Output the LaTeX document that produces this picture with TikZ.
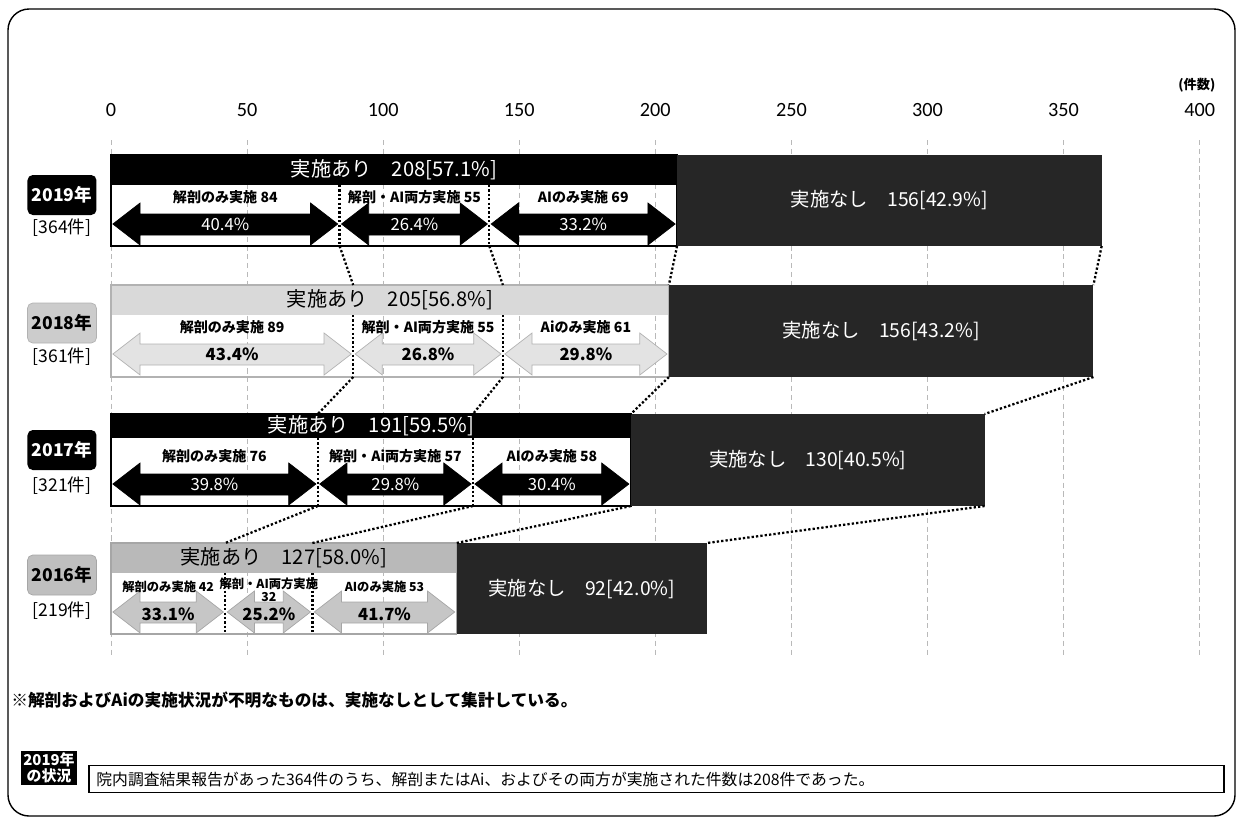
\documentclass[tikz,border=0pt]{standalone}
\usepackage{fontspec}
\setmainfont{Noto Sans CJK JP}
\newfontfamily\numfont{Carlito}
\usepackage{tikz}

% double headed block arrow: left, right, bar top, style
\newcommand\segarrow[4]{%
  \filldraw[#4] ({#1+0.7},#3+69) -- ({#1+10.7},#3+48) -- ({#1+10.7},#3+59)
    -- ({#2-10.7},#3+59) -- ({#2-10.7},#3+48) -- ({#2-0.7},#3+69)
    -- ({#2-10.7},#3+90) -- ({#2-10.7},#3+80) -- ({#1+10.7},#3+80)
    -- ({#1+10.7},#3+90) -- cycle;}

\tikzset{
  grid line/.style={gray!55,densely dashed,line width=0.4pt},
  axis num/.style={font=\numfont\fontsize{11.5}{12}\selectfont},
  unit text/.style={font=\bfseries\fontsize{7.5}{8}\selectfont},
  band text/.style={font=\fontsize{11.5}{12}\selectfont},
  seg label/.style={font=\bfseries\fontsize{8}{9}\selectfont,inner sep=1pt},
  small label/.style={font=\bfseries\fontsize{7}{7.5}\selectfont,inner sep=1pt,align=center},
  pct label/.style={font=\fontsize{9.5}{10}\selectfont,inner sep=1pt},
  pct bold/.style={font=\bfseries\fontsize{9.5}{10}\selectfont,inner sep=1pt},
  link/.style={line width=1.3pt,dash pattern=on 1.3pt off 1.2pt},
  year box/.style={rounded corners=3pt,minimum width=1.38cm,minimum height=0.8cm,
    inner sep=1pt,font=\bfseries\fontsize{10}{10}\selectfont},
  count text/.style={font=\fontsize{10}{10}\selectfont},
  none bar/.style={fill=black!85},
  none text/.style={font=\fontsize{11}{12}\selectfont,text=white},
  black arrow/.style={fill=black,draw=black},
  pale arrow/.style={fill=gray!22,draw=gray!60,line width=0.4pt},
  mid arrow/.style={fill=gray!45,draw=gray!70,line width=0.4pt},
  note text/.style={font=\bfseries\fontsize{9.5}{10}\selectfont,inner sep=0pt},
}

\begin{document}
\begin{tikzpicture}[x=0.02cm,y=-0.02cm]
  \useasboundingbox (0,0) rectangle (1241,826);
  % Frame
  \draw[line width=0.8pt,rounded corners=12pt] (8,9) rectangle (1235,816);

  \begin{scope}[xshift=2.22cm,x=0.05445cm]
  % Grid and axis
  \foreach \v in {0,50,...,400}{
    \draw[grid line] (\v,140) -- (\v,655);
    \node[axis num] (ax\v) at (\v,110) {\v};
  }
  \node[unit text] (unit) at (399,85) {(件数)};

  % 2019
  \fill[black] (0,155) rectangle (208,185);
  \node[band text,text=white] (yes19) at (104,170) {実施あり　208[57.1\%]};
  \foreach \p/\q/\lbl/\pcv in {0/84/解剖のみ実施 84/40.4, 84/139/解剖・AI両方実施 55/26.4, 139/208/AIのみ実施 69/33.2}{
    \segarrow{\p}{\q}{155}{black arrow}
    \node[seg label] (lbl19-\p) at ({(\p+\q)/2},197) {\lbl};
    \node[pct label,text=white] (pct19-\p) at ({(\p+\q)/2},224) {\pcv\%};
  }
  \draw[line width=0.8pt] (0,155) rectangle (208,246);
  \draw[link] (84,185) -- (84,246) (139,185) -- (139,246);
  \fill[none bar] (208,155) rectangle (364,246);
  \node[none text] (no19) at (286,200) {実施なし　156[42.9\%]};
  \node[year box,fill=black,text=white] (yr19) at (-18,195) {2019年};
  \node[count text] (cnt19) at (-18,228) {[364件]};
  \foreach \k/\v in {1/84,2/139,3/208,4/364}{
    \coordinate (bot19-\k) at (\v,246);}

  % 2018
  \fill[gray!30] (0,285) rectangle (205,315);
  \node[band text] (yes18) at (102.5,300) {実施あり　205[56.8\%]};
  \foreach \p/\q/\lbl/\pcv in {0/89/解剖のみ実施 89/43.4, 89/144/解剖・AI両方実施 55/26.8, 144/205/Aiのみ実施 61/29.8}{
    \segarrow{\p}{\q}{285}{pale arrow}
    \node[seg label] (lbl18-\p) at ({(\p+\q)/2},327) {\lbl};
    \node[pct bold] (pct18-\p) at ({(\p+\q)/2},354) {\pcv\%};
  }
  \draw[gray!60,line width=0.6pt] (0,285) rectangle (205,377);
  \draw[link] (89,315) -- (89,377) (144,315) -- (144,377);
  \fill[none bar] (205,285) rectangle (361,377);
  \node[none text] (no18) at (283,331) {実施なし　156[43.2\%]};
  \node[year box,fill=gray!40,draw=gray!60] (yr18) at (-18,323) {2018年};
  \node[count text] (cnt18) at (-18,357) {[361件]};
  \foreach \k/\v in {1/89,2/144,3/205,4/361}{
    \coordinate (top18-\k) at (\v,285);
    \coordinate (bot18-\k) at (\v,377);}

  % 2017
  \fill[black] (0,414) rectangle (191,438);
  \node[band text,text=white] (yes17) at (95.5,426) {実施あり　191[59.5\%]};
  \foreach \p/\q/\lbl/\pcv in {0/76/解剖のみ実施 76/39.8, 76/133/解剖・Ai両方実施 57/29.8, 133/191/AIのみ実施 58/30.4}{
    \segarrow{\p}{\q}{415}{black arrow}
    \node[seg label] (lbl17-\p) at ({(\p+\q)/2},456) {\lbl};
    \node[pct label,text=white] (pct17-\p) at ({(\p+\q)/2},484) {\pcv\%};
  }
  \draw[line width=0.8pt] (0,414) rectangle (191,506);
  \draw[line width=1.6pt] (0,506) -- (191,506);
  \draw[link] (76,438) -- (76,506) (133,438) -- (133,506);
  \fill[none bar] (191,414) rectangle (321,506);
  \node[none text] (no17) at (256,460) {実施なし　130[40.5\%]};
  \node[year box,fill=black,text=white] (yr17) at (-18,450) {2017年};
  \node[count text] (cnt17) at (-18,486) {[321件]};
  \foreach \k/\v in {1/76,2/133,3/191,4/321}{
    \coordinate (top17-\k) at (\v,414);
    \coordinate (bot17-\k) at (\v,506);}

  % 2016
  \fill[gray!55] (0,543) rectangle (127,573);
  \node[band text] (yes16) at (63.5,558) {実施あり　127[58.0\%]};
  \foreach \p/\q/\lbl/\pcv/\ly in {0/42/解剖のみ実施 42/33.1/587, 42/74/{解剖・AI両方実施\\32}/25.2/590, 74/127/AIのみ実施 53/41.7/587}{
    \segarrow{\p}{\q}{543}{mid arrow}
    \node[small label] (lbl16-\p) at ({(\p+\q)/2},\ly) {\lbl};
    \node[pct bold] (pct16-\p) at ({(\p+\q)/2},614) {\pcv\%};
  }
  \draw[gray!70,line width=0.6pt] (0,543) rectangle (127,634);
  \draw[link] (42,573) -- (42,634) (74,573) -- (74,634);
  \fill[none bar] (127,543) rectangle (219,634);
  \node[none text] (no16) at (173,589) {実施なし　92[42.0\%]};
  \node[year box,fill=gray!50,draw=gray!70] (yr16) at (-18,575) {2016年};
  \node[count text] (cnt16) at (-18,611) {[219件]};
  \foreach \k/\v in {1/42,2/74,3/127,4/219}{
    \coordinate (top16-\k) at (\v,543);}

  % Links between years
  \foreach \u/\l in {19/18,18/17,17/16}
    \foreach \k in {1,...,4}
      \draw[link] (bot\u-\k) -- (top\l-\k);
  \end{scope}

  % Note and summary
  \node[note text,anchor=west] (note) at (11,700)
    {※解剖およびAiの実施状況が不明なものは、実施なしとして集計している。};
  \node[fill=black,text=white,align=center,minimum width=1.14cm,minimum height=0.64cm,
    inner sep=1pt,font=\bfseries\fontsize{8.5}{9}\selectfont] (state) at (49,768) {2019年\\の状況};
  \node[draw,line width=1pt,anchor=west,text width=22.4cm,align=left,minimum height=0.54cm,
    inner xsep=0.15cm,font=\fontsize{9}{9.5}\selectfont] (summary) at (88,779)
    {院内調査結果報告があった364件のうち、解剖またはAi、およびその両方が実施された件数は208件であった。};
\end{tikzpicture}
\end{document}
